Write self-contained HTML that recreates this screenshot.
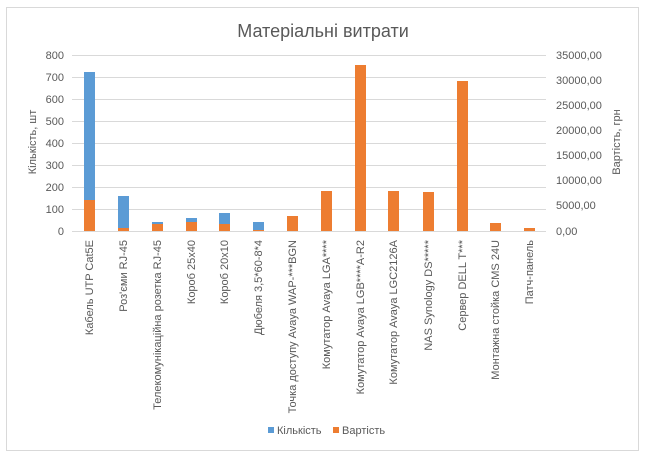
<!DOCTYPE html>
<html><head><meta charset="utf-8"><style>
html,body{margin:0;padding:0;background:#fff;}
svg{display:block;font-family:"Liberation Sans","DejaVu Sans",sans-serif;}
</style></head><body>
<svg width="647" height="457" xmlns="http://www.w3.org/2000/svg">
<rect x="6.5" y="7.5" width="632" height="443" fill="#fff" stroke="#d9d9d9"/>
<text x="323" y="37" text-anchor="middle" font-size="18" fill="#595959">Матеріальні витрати</text>
<g stroke="#d9d9d9" stroke-width="1">
<line x1="72" x2="546" y1="55.5" y2="55.5"/><line x1="72" x2="546" y1="77.5" y2="77.5"/>
<line x1="72" x2="546" y1="99.5" y2="99.5"/><line x1="72" x2="546" y1="121.5" y2="121.5"/>
<line x1="72" x2="546" y1="143.5" y2="143.5"/><line x1="72" x2="546" y1="165.5" y2="165.5"/>
<line x1="72" x2="546" y1="187.5" y2="187.5"/><line x1="72" x2="546" y1="209.5" y2="209.5"/>
<line x1="72" x2="546" y1="231.5" y2="231.5"/>
</g>
<g font-size="11" fill="#595959" text-anchor="end">
<text x="64" y="59">800</text><text x="64" y="81">700</text><text x="64" y="103">600</text>
<text x="64" y="125">500</text><text x="64" y="147">400</text><text x="64" y="169">300</text>
<text x="64" y="191">200</text><text x="64" y="213">100</text><text x="64" y="235">0</text>
</g>
<g font-size="11" fill="#595959">
<text x="556" y="59">35000,00</text><text x="556" y="84">30000,00</text><text x="556" y="109">25000,00</text>
<text x="556" y="134">20000,00</text><text x="556" y="159">15000,00</text><text x="556" y="184">10000,00</text>
<text x="556" y="209">5000,00</text><text x="556" y="235">0,00</text>
</g>
<text transform="translate(36,142) rotate(-90)" text-anchor="middle" font-size="11" fill="#595959">Кількість, шт</text>
<text transform="translate(620,142) rotate(-90)" text-anchor="middle" font-size="11" fill="#595959">Вартість, грн</text>
<g fill="#5b9bd5">
<rect x="84" y="72" width="11" height="159"/>
<rect x="118" y="196" width="11" height="35"/>
<rect x="152" y="222" width="11" height="9"/>
<rect x="186" y="218" width="11" height="13"/>
<rect x="219" y="213" width="11" height="18"/>
<rect x="253" y="222" width="11" height="9"/>
</g>
<g fill="#ed7d31">
<rect x="84" y="200" width="11" height="31"/>
<rect x="118" y="228" width="11" height="3"/>
<rect x="152" y="224" width="11" height="7"/>
<rect x="186" y="222" width="11" height="9"/>
<rect x="219" y="224" width="11" height="7"/>
<rect x="253" y="230" width="11" height="1"/>
<rect x="287" y="216" width="11" height="15"/>
<rect x="321" y="191" width="11" height="40"/>
<rect x="355" y="65" width="11" height="166"/>
<rect x="388" y="191" width="11" height="40"/>
<rect x="423" y="192" width="11" height="39"/>
<rect x="457" y="81" width="11" height="150"/>
<rect x="490" y="223" width="11" height="8"/>
<rect x="524" y="228" width="11" height="3"/>
</g>
<g font-size="11" fill="#595959" text-anchor="end">
<text transform="translate(93,240) rotate(-90)">Кабель UTP Cat5E</text>
<text transform="translate(127,240) rotate(-90)">Роз'єми RJ-45</text>
<text transform="translate(161,240) rotate(-90)">Телекомунікаційна розетка RJ-45</text>
<text transform="translate(195,240) rotate(-90)">Короб 25x40</text>
<text transform="translate(228,240) rotate(-90)">Короб 20x10</text>
<text transform="translate(262,240) rotate(-90)">Дюбеля 3,5*60-8*4</text>
<text transform="translate(296,240) rotate(-90)">Точка доступу Avaya WAP-***BGN</text>
<text transform="translate(330,240) rotate(-90)">Комутатор Avaya LGA****</text>
<text transform="translate(364,240) rotate(-90)">Комутатор Avaya LGB****A-R2</text>
<text transform="translate(397,240) rotate(-90)">Комутатор Avaya LGC2126A</text>
<text transform="translate(432,240) rotate(-90)">NAS Synology DS*****</text>
<text transform="translate(466,240) rotate(-90)">Сервер DELL T***</text>
<text transform="translate(499,240) rotate(-90)">Монтажна стойка CMS 24U</text>
<text transform="translate(533,240) rotate(-90)">Патч-панель</text>
</g>
<rect x="268" y="427" width="6" height="6" fill="#5b9bd5"/>
<text x="277" y="434" font-size="11" fill="#595959">Кількість</text>
<rect x="333" y="427" width="6" height="6" fill="#ed7d31"/>
<text x="342" y="434" font-size="11" fill="#595959">Вартість</text>
</svg>
</body></html>
